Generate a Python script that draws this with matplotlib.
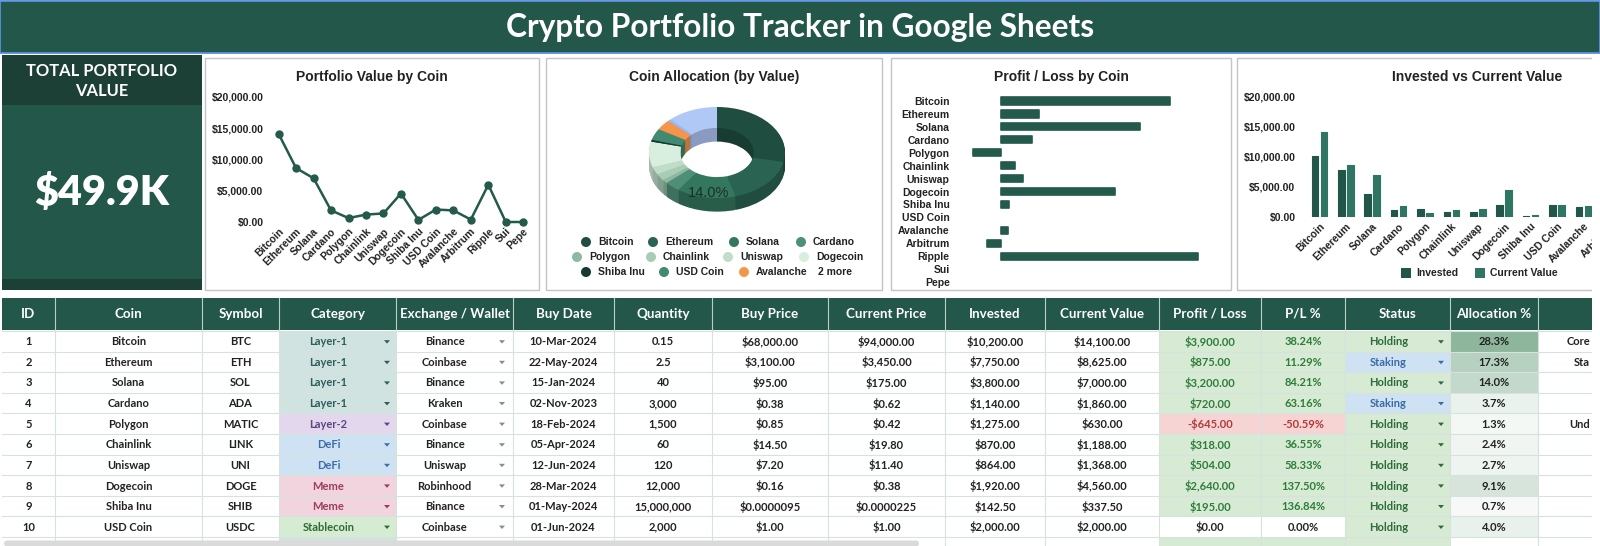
import matplotlib
matplotlib.use('Agg')
import matplotlib.pyplot as plt
from matplotlib.patches import Rectangle, Circle, Polygon as MPoly, FancyBboxPatch
from matplotlib.ticker import FuncFormatter
import matplotlib.colors as mcolors
import numpy as np

W, H = 1600, 546

# ---------------- data ----------------
title_text = "Crypto Portfolio Tracker in Google Sheets"
coins = ['Bitcoin', 'Ethereum', 'Solana', 'Cardano', 'Polygon', 'Chainlink', 'Uniswap',
         'Dogecoin', 'Shiba Inu', 'USD Coin', 'Avalanche', 'Arbitrum', 'Ripple', 'Sui', 'Pepe']
invested = [10200, 7750, 3800, 1140, 1275, 870, 864, 1920, 142.5, 2000, 1690, 710, 1410, 0, 0]
current = [14100, 8625, 7000, 1860, 630, 1188, 1368, 4560, 337.5, 2000, 1850, 390, 5960, 0, 0]
pie_colors = ['#1F4D40', '#2A6352', '#33775F', '#4E8F78', '#8DB9A2', '#A8CDB7', '#C0DDCA',
              '#D8EEDE', '#153A2F', '#3F8A70', '#F4954B', '#9DBBF0', '#AFC8F5', '#C8DAF7', '#7FA3DD']
pie_label_idx = [2]

symbols = ['BTC', 'ETH', 'SOL', 'ADA', 'MATIC', 'LINK', 'UNI', 'DOGE', 'SHIB', 'USDC']
categories = ['Layer-1', 'Layer-1', 'Layer-1', 'Layer-1', 'Layer-2', 'DeFi', 'DeFi', 'Meme', 'Meme', 'Stablecoin']
exchanges = ['Binance', 'Coinbase', 'Binance', 'Kraken', 'Coinbase', 'Binance', 'Uniswap', 'Robinhood', 'Binance', 'Coinbase']
buy_dates = ['10-Mar-2024', '22-May-2024', '15-Jan-2024', '02-Nov-2023', '18-Feb-2024', '05-Apr-2024',
             '12-Jun-2024', '28-Mar-2024', '01-May-2024', '01-Jun-2024']
quantities = ['0.15', '2.5', '40', '3,000', '1,500', '60', '120', '12,000', '15,000,000', '2,000']
buy_prices = ['$68,000.00', '$3,100.00', '$95.00', '$0.38', '$0.85', '$14.50', '$7.20', '$0.16', '$0.0000095', '$1.00']
current_prices = ['$94,000.00', '$3,450.00', '$175.00', '$0.62', '$0.42', '$19.80', '$11.40', '$0.38', '$0.0000225', '$1.00']
statuses = ['Holding', 'Staking', 'Holding', 'Staking', 'Holding', 'Holding', 'Holding', 'Holding', 'Holding', 'Holding']
notes_visible = ['Core', 'Sta', '', '', 'Und', '', '', '', '', '']
headers = ['ID', 'Coin', 'Symbol', 'Category', 'Exchange / Wallet', 'Buy Date', 'Quantity', 'Buy Price',
           'Current Price', 'Invested', 'Current Value', 'Profit / Loss', 'P/L %', 'Status', 'Allocation %', '']

# ---------------- derived ----------------
total = sum(current)
pl = [c - i for c, i in zip(current, invested)]
alloc = [c / total * 100 for c in current]

def money(v):
    return f"-${abs(v):,.2f}" if v < 0 else f"${v:,.2f}"

# ---------------- styling ----------------
DARK = '#23574A'
DARKER = '#1C4035'
LINEC = '#245A4B'
CH_FONT = ['Liberation Sans', 'DejaVu Sans']
HD_FONT = ['Lato', 'DejaVu Sans']
CELL_FONT = ['Lato', 'DejaVu Sans']

fig = plt.figure(figsize=(16, 5.46), dpi=100)
fig.patch.set_facecolor('white')
bg = fig.add_axes([0, 0, 1, 1])
bg.set_xlim(0, W)
bg.set_ylim(H, 0)
bg.axis('off')
renderer = fig.canvas.get_renderer()


def rect(x0, y0, x1, y1, fc, ec='none', lw=0, z=1):
    bg.add_patch(Rectangle((x0, y0), x1 - x0, y1 - y0, facecolor=fc, edgecolor=ec, linewidth=lw, zorder=z))


def px_axes(x0, y0, x1, y1):
    ax = fig.add_axes([x0 / W, 1 - y1 / H, (x1 - x0) / W, (y1 - y0) / H])
    ax.set_facecolor('none')
    return ax


def fit(t, target_w):
    w = t.get_window_extent(renderer).width
    t.set_fontsize(t.get_fontsize() * target_w / w)


def tri(x, y, color):
    bg.add_patch(MPoly([(x - 3, y - 1.6), (x + 3, y - 1.6), (x, y + 1.8)], closed=True,
                       facecolor=color, edgecolor='none', zorder=4))

# ---------------- title bar ----------------
rect(0, 0.8, W, 53, DARK, ec='#5B8FE0', lw=1.3)
t = bg.text(800, 27, title_text, color='white', fontsize=20, fontweight='bold', family=HD_FONT,
            ha='center', va='center', zorder=5)
fit(t, 590)

# ---------------- KPI ----------------
rect(2, 55, 202, 105, DARKER)
rect(2, 105, 202, 279, DARK)
rect(2, 279, 202, 290, DARKER)
t1 = bg.text(102, 71, "TOTAL PORTFOLIO", color='white', fontsize=12, fontweight='bold',
             family=HD_FONT, ha='center', va='center', zorder=5)
fit(t1, 151)
bg.text(102, 91, "VALUE", color='white', fontsize=t1.get_fontsize(), fontweight='bold',
        family=HD_FONT, ha='center', va='center', zorder=5)
t = bg.text(102, 193, f"${total/1000:.1f}K", color='white', fontsize=30, fontweight='heavy',
            family=HD_FONT, ha='center', va='center', zorder=5)
fit(t, 135)

# ---------------- panels ----------------
panels = [(205, 58, 539, 290), (546, 58, 882, 290), (891, 58, 1231, 290), (1237, 58, 1610, 290)]
for (x0, y0, x1, y1) in panels:
    rect(x0 + 1, y0 + 1, x1 + 1, y1 + 1, '#E4E4E4', z=1)
    rect(x0, y0, x1, y1, 'white', ec='#C4C4C4', lw=1, z=1.5)

titles = [(372, 'Portfolio Value by Coin'), (714, 'Coin Allocation (by Value)'),
          (1061, 'Profit / Loss by Coin'), (1477, 'Invested vs Current Value')]
for x, s in titles:
    bg.text(x, 77, s, fontsize=10, fontweight='bold', family=CH_FONT, color='#222',
            ha='center', va='center', zorder=5)

money_fmt = FuncFormatter(lambda v, p: f"${v:,.2f}")


def style_ax(ax):
    for s in ax.spines.values():
        s.set_visible(False)
    ax.tick_params(length=0, labelsize=7.5, labelcolor='#222', pad=4)
    for lab in ax.get_xticklabels() + ax.get_yticklabels():
        lab.set_fontweight('bold')
        lab.set_family(CH_FONT)

# ---------------- line chart ----------------
n = len(coins)
x = np.arange(n)
ax1 = px_axes(269, 97, 532, 222)
ax1.plot(x, current, color=LINEC, lw=1.8, marker='o', ms=5, clip_on=False, zorder=3)
ax1.set_ylim(0, 20000)
ax1.set_xlim(-0.55, n - 1 + 0.5)
ax1.set_yticks([0, 5000, 10000, 15000, 20000])
ax1.yaxis.set_major_formatter(money_fmt)
ax1.set_xticks(x)
ax1.set_xticklabels(coins, rotation=45, ha='right', rotation_mode='anchor')
style_ax(ax1)
ax1.tick_params(axis='x', pad=3)

# ---------------- donut (3D look) ----------------
dax = px_axes(637, 100, 797, 222)
sizes = current
side_cols = [tuple(np.array(mcolors.to_rgb(c)) * 0.78) for c in pie_colors]
for dz in np.linspace(0.30, 0.02, 15):
    dax.pie(sizes, colors=side_cols, startangle=90, counterclock=False, radius=1,
            center=(0, -dz), wedgeprops=dict(width=0.46, linewidth=0), frame=False)
dax.pie(sizes, colors=pie_colors, startangle=90, counterclock=False, radius=1, center=(0, 0),
        wedgeprops=dict(width=0.46, linewidth=0), frame=False)
dax.set_aspect('auto')
dax.set_xlim(-80 / 68, 80 / 68)
dax.set_ylim(-(222 - 152.5) / 45.5, (152.5 - 100) / 45.5)
dax.axis('off')
cum = np.cumsum([0] + list(sizes)) / total
for i in pie_label_idx:
    mid = (cum[i] + cum[i + 1]) / 2
    ang = np.deg2rad(90 - mid * 360)
    r = 0.77
    dax.text(r * np.cos(ang), r * np.sin(ang) - 0.12, f"{alloc[i]:.1f}%", fontsize=10.5,
             color='#1E2E28', family=CH_FONT, ha='center', va='center')

# donut legend
leg_rows = [[0, 1, 2, 3], [4, 5, 6, 7], [8, 9, 10]]
leg_x = [[586, 653, 734, 801], [577, 651, 728, 804], [586, 664, 744]]
leg_y = [242, 257, 272]
for row, xs, yy in zip(leg_rows, leg_x, leg_y):
    for idx, xx in zip(row, xs):
        bg.add_patch(Circle((xx, yy), 5, facecolor=pie_colors[idx], edgecolor='none', zorder=5))
        bg.text(xx + 12, yy, coins[idx], fontsize=7.5, fontweight='bold', family=CH_FONT,
                color='#222', ha='left', va='center', zorder=5)
n_more = sum(1 for v in current if v > 0) - 11
bg.text(818, 272, f"{n_more} more", fontsize=7.5, fontweight='bold', family=CH_FONT,
        color='#222', ha='left', va='center', zorder=5)

# ---------------- profit / loss ----------------
ax3 = px_axes(958, 94.5, 1215, 288.5)
ax3.barh(x, pl, height=0.56, color=LINEC, edgecolor=LINEC,
         linewidth=[1.2 if v != 0 else 0 for v in pl], joinstyle='round')
ax3.set_ylim(n - 0.5, -0.5)
ax3.set_xlim(-(1001 - 958) / (169 / 3900), (1215 - 1001) / (169 / 3900))
ax3.set_yticks(x)
ax3.set_yticklabels(coins)
ax3.set_xticks([])
style_ax(ax3)
ax3.tick_params(axis='y', pad=6)

# ---------------- invested vs current ----------------
step = 26.4
n_vis = 12  # categories whose labels reach into the visible panel
ax4 = px_axes(1301, 97, 1301 + 15.2 * step, 217)
ax4.bar(x - 0.17, invested, width=0.25, color='#22564A', edgecolor='#22564A',
        linewidth=[0.8 if v else 0 for v in invested], joinstyle='round')
ax4.bar(x + 0.17, current, width=0.25, color='#2F7563', edgecolor='#2F7563',
        linewidth=[0.8 if v else 0 for v in current], joinstyle='round')
ax4.set_ylim(0, 20000)
ax4.set_xlim(-0.70, 14.5)
ax4.set_yticks([0, 5000, 10000, 15000, 20000])
ax4.yaxis.set_major_formatter(money_fmt)
ax4.set_xticks(x[:n_vis])
ax4.set_xticklabels(coins[:n_vis], rotation=45, ha='right', rotation_mode='anchor')
style_ax(ax4)
ax4.tick_params(axis='x', pad=3)

for sx, tx, col, lab in [(1401, 1416, '#22564A', 'Invested'), (1475, 1490, '#2F7563', 'Current Value')]:
    rect(sx, 268, sx + 10, 278, col, z=5)
    bg.text(tx, 273, lab, fontsize=7.5, fontweight='bold', family=CH_FONT, color='#222',
            ha='left', va='center', zorder=5)

# ---------------- table ----------------
col_edges = [2, 55, 202, 279, 396, 513, 614, 712, 828, 945, 1045, 1159, 1261, 1345, 1450, 1538, 1600]
hy0, hy1 = 298, 330
ry0, rh = 331, 20.6
GRID = '#D6E3DD'
FS = 8

rect(2, hy0, 1600, hy1, DARK, z=2)
for j, hname in enumerate(headers):
    cx = (col_edges[j] + col_edges[j + 1]) / 2
    bg.text(cx, (hy0 + hy1) / 2, hname, color='white', fontsize=9.6, fontweight='bold',
            family=HD_FONT, ha='center', va='center', zorder=5)
    if 0 < j:
        bg.plot([col_edges[j]] * 2, [hy0, hy1], color='#B9CFC6', lw=0.8, zorder=3)

cat_style = {'Layer-1': ('#D0E3E1', '#2E5E5B'), 'Layer-2': ('#E3D7EE', '#5E4580'),
             'DeFi': ('#CFE2F3', '#3C6EA8'), 'Meme': ('#F2D4DE', '#9B3C60'),
             'Stablecoin': ('#D5ECD2', '#2E6B30')}
status_style = {'Holding': ('#D6EAD4', '#2E6B3A'), 'Staking': ('#CFE2F3', '#3B6BA5')}
amin, amax = min(alloc[:10]), max(alloc[:10])
c_lo = np.array(mcolors.to_rgb('#F6F9F7'))
c_hi = np.array(mcolors.to_rgb('#8DB69D'))

nrows = 10
for r in range(nrows + 1):
    y0 = ry0 + r * rh
    y1 = y0 + rh
    cy = (y0 + y1) / 2 + 0.5
    if r == nrows:
        # partially visible next row
        rect(col_edges[3], y0, col_edges[4], y1, '#D0E3E1', z=1)
        rect(col_edges[11], y0, col_edges[13], y1, '#D6EAD4', z=1)
        rect(col_edges[13], y0, col_edges[14], y1, '#D6EAD4', z=1)
        continue
    cat = categories[r]
    cbg, cfg = cat_style[cat]
    rect(col_edges[3], y0, col_edges[4], y1, cbg, z=1)
    sbg, sfg = status_style[statuses[r]]
    rect(col_edges[13], y0, col_edges[14], y1, sbg, z=1)
    p = pl[r]
    if p > 0:
        pbg, pfg = '#D6EAD4', '#2E7D3A'
    elif p < 0:
        pbg, pfg = '#F6D4D4', '#B03A3A'
    else:
        pbg, pfg = 'white', '#222222'
    rect(col_edges[11], y0, col_edges[13], y1, pbg, z=1)
    tcol = c_lo + (alloc[r] - amin) / (amax - amin) * (c_hi - c_lo)
    rect(col_edges[14], y0, col_edges[15], y1, tuple(tcol), z=1)

    vals = [str(r + 1), coins[r], symbols[r], None, None, buy_dates[r], quantities[r], buy_prices[r],
            current_prices[r], money(invested[r]), money(current[r]), money(p),
            f"{p / invested[r] * 100:.2f}%", None, f"{alloc[r]:.1f}%", None]
    colors = ['#222'] * 16
    colors[11] = pfg
    colors[12] = pfg
    for j, v in enumerate(vals):
        if v is None:
            continue
        cx = (col_edges[j] + col_edges[j + 1]) / 2
        bg.text(cx, cy, v, color=colors[j], fontsize=FS, fontweight='bold', family=CELL_FONT,
                ha='center', va='center', zorder=5)
    # dropdown cells
    x0c, x1c = col_edges[3], col_edges[4]
    bg.text((x0c + x1c - 18) / 2, cy, cat, color=cfg, fontsize=FS, fontweight='bold',
            family=CELL_FONT, ha='center', va='center', zorder=5)
    tri(x1c - 9, cy, cfg)
    x0c, x1c = col_edges[4], col_edges[5]
    bg.text((x0c + x1c - 20) / 2, cy, exchanges[r], color='#222', fontsize=FS, fontweight='bold',
            family=CELL_FONT, ha='center', va='center', zorder=5)
    tri(x1c - 11, cy, '#8A8A8A')
    x0c, x1c = col_edges[13], col_edges[14]
    bg.text((x0c + x1c - 18) / 2, cy, statuses[r], color=sfg, fontsize=FS, fontweight='bold',
            family=CELL_FONT, ha='center', va='center', zorder=5)
    tri(x1c - 9, cy, sfg)
    if notes_visible[r]:
        bg.text(1590, cy, notes_visible[r], color='#222', fontsize=FS, fontweight='bold',
                family=CELL_FONT, ha='right', va='center', zorder=5)

# grid lines
ybot = ry0 + (nrows + 1) * rh
for r in range(nrows + 1):
    yy = ry0 + r * rh
    bg.plot([2, 1600], [yy, yy], color=GRID, lw=0.8, zorder=3)
for xe in col_edges[1:-1]:
    bg.plot([xe, xe], [hy1, ybot], color=GRID, lw=0.8, zorder=3)

# scroll bar
bg.add_patch(FancyBboxPatch((4, 540.5), 915, 6, boxstyle='round,pad=0,rounding_size=3',
                            facecolor='#DADADA', edgecolor='none', zorder=6))

# right-edge overlay (sheet is cut at the window edge)
ov = fig.add_axes([1592 / W, 0, 8 / W, (H - 55) / H])
ov.axis('off')
ov.add_patch(Rectangle((0, 0), 1, 1, transform=ov.transAxes, facecolor='white', edgecolor='none', clip_on=False))

fig.savefig('out.png', dpi=100, facecolor='white')
